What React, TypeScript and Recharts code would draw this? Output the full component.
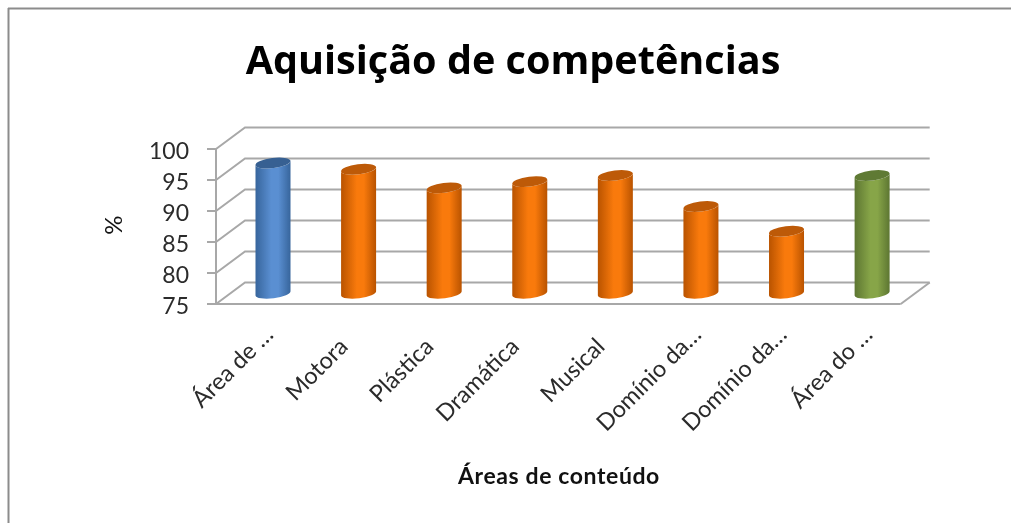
import React from 'react';
import { BarChart, Bar, XAxis, YAxis, CartesianGrid } from 'recharts';

const categories = ['Área de …', 'Motora', 'Plástica', 'Dramática', 'Musical', 'Domínio da…', 'Domínio da…', 'Área do …'];
const values = [96, 95, 92, 93, 94, 89, 85, 94];
const yTicks = [75, 80, 85, 90, 95, 100];
const barKinds = ['blue', 'orange', 'orange', 'orange', 'orange', 'orange', 'orange', 'green'];
const title = 'Aquisição de competências';
const xTitle = 'Áreas de conteúdo';
const yTitle = '%';

const data = categories.map((name, i) => ({ name, value: values[i] }));

const W = 1011;
const H = 523;
const DEPTH_X = 29;
const DEPTH_Y = 21.5;
const GRID = '#a8a8a8';
const TEXT = '#2b2b2b';
const FONT = 'Lato, sans-serif';

const palette: Record<string, { edge: string; mid: string; top: string }> = {
  blue: { edge: '#37659c', mid: '#5a8fd2', top: '#376092' },
  orange: { edge: '#b95300', mid: '#f97a0c', top: '#bd5a08' },
  green: { edge: '#5d7632', mid: '#87a548', top: '#5f7a34' },
};

const Cylinder = (props: any) => {
  const { x, y, width, height, index } = props;
  const kind = barKinds[index];
  const ox = DEPTH_X / 2;
  const oy = -DEPTH_Y / 2;
  const l = x + ox;
  const r = x + width + ox;
  const top = y + oy;
  const bot = y + height + oy;
  const tilt = 2.2;
  const rx = width / 2;
  const ry = 5;
  const rot = -7;
  const body = `M${l},${top + tilt} L${l},${bot + tilt} A${rx},${ry} ${rot} 0 0 ${r},${bot - tilt} L${r},${top - tilt} A${rx},${ry} ${rot} 0 1 ${l},${top + tilt} Z`;
  const cap = `M${l},${top + tilt} A${rx},${ry} ${rot} 0 1 ${r},${top - tilt} A${rx},${ry} ${rot} 0 1 ${l},${top + tilt} Z`;
  return (
    <g>
      <path d={body} fill={`url(#grad-${kind})`} />
      <path d={cap} fill={palette[kind].top} />
    </g>
  );
};

const gridLine = (props: any) => {
  const { x1, x2, y1 } = props;
  const bx = x1 + DEPTH_X;
  const by = y1 - DEPTH_Y;
  const isFloor = Math.abs(y1 - 304) < 1;
  return (
    <g key={`g-${y1}`}>
      <polyline
        points={`${x1},${y1} ${bx},${by} ${x2 + DEPTH_X},${by}`}
        fill="none"
        stroke={GRID}
        strokeWidth={2}
      />
      {isFloor && (
        <line x1={x2 + DEPTH_X} y1={by} x2={x2} y2={y1} stroke={GRID} strokeWidth={2} />
      )}
    </g>
  );
};

const XTick = (props: any) => {
  const { x, y, payload } = props;
  const truncated = String(payload.value).endsWith('…');
  const ax = truncated ? x + 16 : x + 5;
  const ay = truncated ? y + 24 : y + 36;
  return (
    <text
      x={ax}
      y={ay}
      textAnchor="end"
      transform={`rotate(-45 ${ax} ${ay})`}
      fontFamily={FONT}
      fontSize={23.5}
      fill={TEXT}
    >
      {payload.value}
    </text>
  );
};

const YTick = (props: any) => {
  const { x, y, payload } = props;
  return (
    <text x={x} y={y + 9.5} textAnchor="end" fontFamily={FONT} fontSize={23} fill={TEXT}>
      {payload.value}
    </text>
  );
};

export default function App() {
  return (
    <div style={{ position: 'absolute', left: 0, top: 0, width: W, height: H, background: '#fff', filter: 'blur(0.5px)' }}>
      <BarChart
        width={W}
        height={H}
        data={data}
        barSize={35}
        margin={{ top: 149, left: 156, right: W - 900.7, bottom: H - 304 - 100 }}
      >
        <defs>
          {Object.keys(palette).map((k) => (
            <linearGradient key={k} id={`grad-${k}`} x1="0" y1="0" x2="1" y2="0">
              <stop offset="0" stopColor={palette[k].edge} />
              <stop offset="0.45" stopColor={palette[k].mid} />
              <stop offset="0.65" stopColor={palette[k].mid} />
              <stop offset="1" stopColor={palette[k].edge} />
            </linearGradient>
          ))}
        </defs>
        <line x1={8} y1={8.5} x2={W} y2={8.5} stroke="#8c8c8c" strokeWidth={2} />
        <line x1={8.5} y1={8} x2={8.5} y2={H} stroke="#8c8c8c" strokeWidth={2} />
        <CartesianGrid vertical={false} horizontal={gridLine} />
        <XAxis
          dataKey="name"
          height={100}
          interval={0}
          tickLine={false}
          axisLine={{ stroke: GRID, strokeWidth: 2 }}
          tick={<XTick />}
        />
        <YAxis
          width={60}
          domain={[75, 100]}
          ticks={yTicks}
          interval={0}
          tickSize={9}
          tickMargin={18}
          axisLine={{ stroke: GRID, strokeWidth: 2 }}
          tickLine={{ stroke: GRID, strokeWidth: 2 }}
          tick={<YTick />}
        />
        <Bar dataKey="value" isAnimationActive={false} shape={<Cylinder />} />
        <text x={513} y={74} textAnchor="middle" fontFamily="'Open Sans', sans-serif" fontWeight={700} fontSize={39.6} fill="#000">
          {title}
        </text>
        <text x={559} y={484} textAnchor="middle" fontFamily={FONT} fontWeight={700} fontSize={23} letterSpacing={0.6} fill="#111">
          {xTitle}
        </text>
        <text x={122} y={225} textAnchor="middle" transform="rotate(-90 122 225)" fontFamily={FONT} fontSize={24} fill="#111">
          {yTitle}
        </text>
      </BarChart>
    </div>
  );
}
